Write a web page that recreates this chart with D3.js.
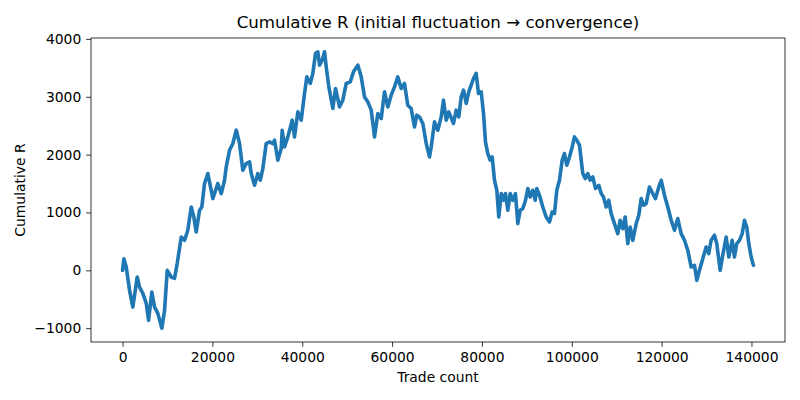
<!DOCTYPE html>
<html><head><meta charset="utf-8">
<script src="https://cdn.jsdelivr.net/npm/d3@7"></script>
<style>body{margin:0;background:#fff}svg{display:block}text{font-family:"DejaVu Sans",sans-serif}</style>
</head><body><svg id="c" width="800" height="400"></svg>
<script>
const trades = [0,300,820,1560,2290,3270,3780,4520,5270,5790,6520,7120,7860,8750,9350,9950,10840,11570,12170,13070,13800,14530,15290,15870,16400,17140,17650,18250,18990,20100,21210,21970,22700,23080,23820,24550,25310,26040,26780,27530,28270,28650,29380,30110,30650,31230,31980,32720,33450,33830,34570,35320,35540,36060,36790,37770,38280,39020,39770,40510,41020,41780,42350,42960,43470,43850,44450,44960,45340,45920,46810,47410,48300,49030,49790,50680,51410,52370,53130,53860,54600,55360,56090,56820,57580,58310,59050,59800,60540,61270,62030,62760,63500,64250,64990,65500,66100,66840,67600,68330,68710,69440,70180,70930,71440,72050,72620,73670,74270,74850,75380,75900,76500,77070,77610,78120,78720,79230,79840,80350,80790,81300,81840,82280,82800,83310,83750,84290,84800,85240,85760,86290,86870,87470,87980,88520,89100,89700,90210,90740,91320,91860,92210,92810,93550,94300,95040,95640,96150,96660,97260,97860,98370,98890,99490,100090,100600,101110,101710,102450,102980,103560,104100,104680,105280,106010,106550,107060,107660,108230,108770,109500,110240,110770,111350,111890,112470,113000,113580,114340,114920,115450,116030,116560,117290,118030,118630,119370,119900,120630,121370,122130,122860,123590,124350,125090,125820,126580,127310,127830,128420,129160,129910,130490,131020,131760,132270,133030,133610,134370,134950,135700,136210,136730,137330,137930,138440,138950,139400,139930,140440];
const cumR = [0,200,57,-346,-635,-116,-289,-398,-571,-865,-375,-635,-744,-1000,-692,0,-116,-138,121,576,519,692,1095,922,663,1038,1095,1500,1673,1240,1500,1327,1557,1787,2076,2192,2422,2192,1730,1846,1874,1673,1470,1673,1557,1759,2192,2220,2192,2249,1903,2105,2422,2133,2306,2595,2306,2739,2595,3057,3344,3230,3403,3749,3777,3547,3633,3777,3517,3171,2797,3143,2825,2941,3230,3258,3431,3547,3344,2998,2912,2768,2306,2711,2624,3085,2825,3028,3171,3344,3143,3230,2855,2797,2479,2682,2652,2538,2192,1960,2133,2566,2422,2652,2941,2595,2739,2538,2768,2652,2998,3114,2884,3085,3200,3316,3403,3057,3085,2711,2220,2019,1903,1960,1557,1384,922,1327,1211,1327,1038,1327,1211,1327,808,1038,1067,1211,1413,1268,1384,1211,1413,1298,1095,922,836,1009,981,1384,1557,1903,2019,1817,1960,2133,2306,2249,2163,1673,1586,1673,1557,1614,1413,1470,1327,1268,1095,1211,981,808,635,865,721,922,462,749,519,808,952,1240,1125,1154,1441,1327,1240,1441,1557,1298,1095,865,692,894,635,519,346,57,87,-173,0,202,403,289,519,606,462,0,260,576,230,519,230,462,519,635,865,749,462,230,86];
const xTicks = [0,20000,40000,60000,80000,100000,120000,140000];
const yTicks = [-1000,0,1000,2000,3000,4000];
const titleText = "Cumulative R (initial fluctuation \u2192 convergence)";
const xLabel = "Trade count", yLabel = "Cumulative R";

const W=800,H=400, m={l:91,r:15,t:38,b:58};
const svg=d3.select("#c");
const data=trades.map((t,i)=>({x:t,y:cumR[i]}));
const xe=d3.extent(trades), ye=d3.extent(cumR);
const px=(xe[1]-xe[0])*0.05, py=(ye[1]-ye[0])*0.05;
const x=d3.scaleLinear().domain([xe[0]-px,xe[1]+px]).range([m.l,W-m.r]);
const y=d3.scaleLinear().domain([ye[0]-py,ye[1]+py]).range([H-m.b,m.t]);

svg.append("path").datum(data)
  .attr("d",d3.line().x(d=>x(d.x)).y(d=>y(d.y)))
  .attr("fill","none").attr("stroke","#1f77b4").attr("stroke-width",3.6)
  .attr("stroke-linejoin","round").attr("stroke-linecap","round");

const fmt=d3.format("d");
const xa=svg.append("g").attr("transform",`translate(0,${H-m.b})`)
  .call(d3.axisBottom(x).tickValues(xTicks).tickFormat(fmt).tickSize(4.86).tickPadding(4.86));
const ya=svg.append("g").attr("transform",`translate(${m.l},0)`)
  .call(d3.axisLeft(y).tickValues(yTicks).tickFormat(fmt).tickSize(4.86).tickPadding(4.86));
[xa,ya].forEach(g=>{g.select(".domain").remove();
  g.selectAll("line").attr("stroke","#000").attr("stroke-width",0.8);
  g.selectAll("text").attr("font-size","13.89px").attr("fill","#000").attr("font-family","DejaVu Sans");});

svg.append("rect").attr("x",m.l).attr("y",m.t).attr("width",W-m.l-m.r).attr("height",H-m.t-m.b)
  .attr("fill","none").attr("stroke","#000").attr("stroke-width",0.8);

svg.append("text").attr("x",(m.l+W-m.r)/2).attr("y",28).attr("text-anchor","middle")
  .attr("font-size","16.67px").text(titleText);
svg.append("text").attr("x",(m.l+W-m.r)/2).attr("y",382).attr("text-anchor","middle")
  .attr("font-size","13.89px").text(xLabel);
svg.append("text").attr("transform",`translate(25,${(m.t+H-m.b)/2}) rotate(-90)`).attr("text-anchor","middle")
  .attr("font-size","13.89px").text(yLabel);
</script></body></html>
